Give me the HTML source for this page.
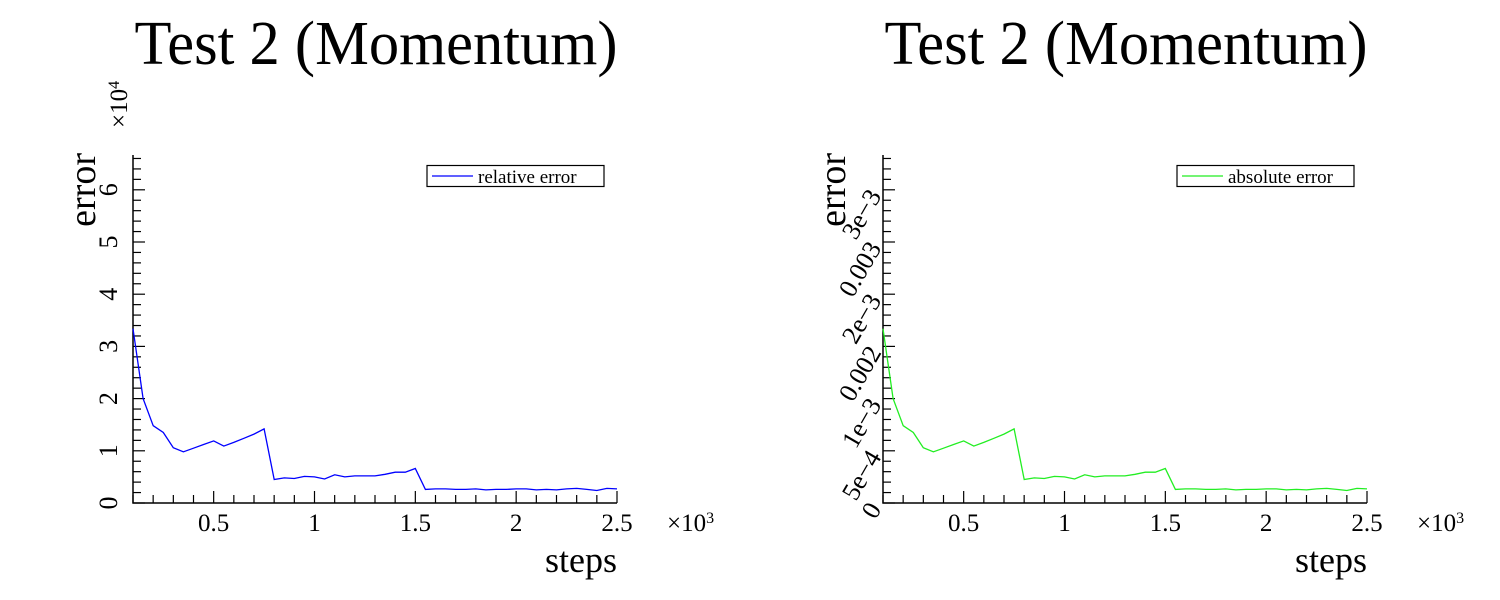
<!DOCTYPE html>
<html><head><meta charset="utf-8"><style>
html,body{margin:0;padding:0;background:#fff;}
svg{display:block;font-family:"Liberation Serif",serif;}
</style></head><body>
<svg id="chart" width="1500" height="600" viewBox="0 0 1500 600" xmlns="http://www.w3.org/2000/svg"></svg>
<script>
const steps = [100,150,200,250,300,350,400,450,500,550,600,650,700,750,800,850,900,950,1000,1050,1100,1150,1200,1250,1300,1350,1400,1450,1500,1550,1600,1650,1700,1750,1800,1850,1900,1950,2000,2050,2100,2150,2200,2250,2300,2350,2400,2450,2500];
const relativeError = [3.34,2.0,1.48,1.35,1.06,0.98,1.05,1.12,1.19,1.09,1.16,1.24,1.32,1.42,0.45,0.48,0.47,0.51,0.50,0.46,0.54,0.50,0.52,0.52,0.52,0.55,0.59,0.59,0.66,0.26,0.27,0.27,0.26,0.26,0.27,0.25,0.26,0.26,0.27,0.27,0.25,0.26,0.25,0.27,0.28,0.26,0.24,0.28,0.27];
const absoluteError = [0.00167,0.00100,0.00074,0.000675,0.00053,0.00049,0.000525,0.00056,0.000595,0.000545,0.00058,0.00062,0.00066,0.00071,0.000225,0.00024,0.000235,0.000255,0.00025,0.00023,0.00027,0.00025,0.00026,0.00026,0.00026,0.000275,0.000295,0.000295,0.00033,0.00013,0.000135,0.000135,0.00013,0.00013,0.000135,0.000125,0.00013,0.00013,0.000135,0.000135,0.000125,0.00013,0.000125,0.000135,0.00014,0.00013,0.00012,0.00014,0.000135];
const xTickValues = [500,1000,1500,2000,2500];
const xTickLabels = ["0.5","1","1.5","2","2.5"];
const relTickValues = [0,1,2,3,4,5,6];
const relTickLabels = ["0","1","2","3","4","5","6"];
const absTickValues = [0,0.0005,0.001,0.0015,0.002,0.0025,0.003];
const absTickLabels = ["0","5e\u22124","1e\u22123","0.002","2e\u22123","0.003","3e\u22123"];

const NS="http://www.w3.org/2000/svg";
const svg=document.getElementById('chart');
function mk(tag,attrs,parent){const e=document.createElementNS(NS,tag);for(const k in attrs)e.setAttribute(k,attrs[k]);(parent||svg).appendChild(e);return e;}

function panel(ox, ys, values, tickVals, tickLabels, color, legendText, rotated, prefix){
  const g=mk('g',{});
  
  
  const x0=100, x1=2500, px0=ox, px1=ox+484;
  const xs=v=>px0+(v-x0)/(x1-x0)*(px1-px0);
  const y0=503, yTop=155;
  const yv=v=>y0-v*ys;
  const t=mk('text',{x:ox+243,y:64,'font-size':62,'text-anchor':'middle',textLength:483,lengthAdjust:'spacingAndGlyphs'},g);
  t.textContent='Test 2 (Momentum)';
  
  
  const ax=mk('path',{d:`M${px0} ${yTop} L${px0} ${y0} L${px1} ${y0}`,stroke:'#000','stroke-width':1.5,fill:'none'},g);
  
  
  for(let v=100; v<=2500; v+=100){
    const major = v%500===0;
    mk('line',{x1:xs(v),x2:xs(v),y1:y0,y2:y0-(major?12:8),stroke:'#000','stroke-width':1.2},g);
  }
  xTickValues.forEach((v,i)=>{
    const tl=mk('text',{x:xs(v),y:531,'font-size':25,'text-anchor':'middle'},g);
    tl.textContent=xTickLabels[i];
    
    
  });
  const top=(y0-yTop)/ys;
  const step=tickVals[1]-tickVals[0];
  for(let k=0; k*step/5<=top+1e-9; k++){
    const v=k*step/5;
    const major=k%5===0;
    mk('line',{x1:px0,x2:px0+(major?12:8),y1:yv(v),y2:yv(v),stroke:'#000','stroke-width':1.2},g);
  }
  tickVals.forEach((v,i)=>{
    let tl;
    if(!rotated){
      tl=mk('text',{x:0,y:0,'font-size':26,'text-anchor':'middle',transform:`translate(${ox-16},${yv(v)}) rotate(-90)`},g);
    } else {
      tl=mk('text',{x:0,y:0,'font-size':26,'text-anchor':'end',transform:`translate(${ox-1},${yv(v)+6}) rotate(-60)`},g);
    }
    tl.textContent=tickLabels[i];
    
    
  });
  const yt=mk('text',{x:0,y:0,'font-size':38,'text-anchor':'end',transform:`translate(${ox-38},153) rotate(-90)`},g);
  yt.textContent='error';
  
  
  const xt=mk('text',{x:px1,y:572,'font-size':36,'text-anchor':'end'},g);
  xt.textContent='steps';
  
  
  const xm=mk('text',{x:px1+50,y:531,'font-size':25},g);
  xm.innerHTML='\u00d710<tspan font-size="16" dy="-8">3</tspan>';
  
  
  const d=steps.map((s,i)=>(i?'L':'M')+xs(s).toFixed(1)+' '+yv(values[i]).toFixed(1)).join(' ');
  const ln=mk('path',{d:d,stroke:color,'stroke-width':1.3,fill:'none'},g);
  
  
  const lg=mk('g',{},g);
  
  
  const lw = legendText.length>15?187:177;
  mk('rect',{x:ox+294,y:165.5,width:lw,height:21,fill:'#fff',stroke:'#000','stroke-width':1.2},lg);
  mk('line',{x1:ox+299,x2:ox+340,y1:176,y2:176,stroke:color,'stroke-width':1.2},lg);
  const lt=mk('text',{x:ox+345,y:183,'font-size':19},lg);
  lt.textContent=legendText;
  
  
}
panel(133, 52.2, relativeError, relTickValues, relTickLabels, '#0000ff', 'relative error', false, 'left');
panel(883, 52.2/0.0005, absoluteError, absTickValues, absTickLabels, '#22ee22', 'absolute error', true, 'right');
const m=mk('text',{x:0,y:0,'font-size':25,transform:'translate(127,128) rotate(-90)'});
m.innerHTML='\u00d710<tspan font-size="16" dy="-8">4</tspan>';


</script>
</body></html>
